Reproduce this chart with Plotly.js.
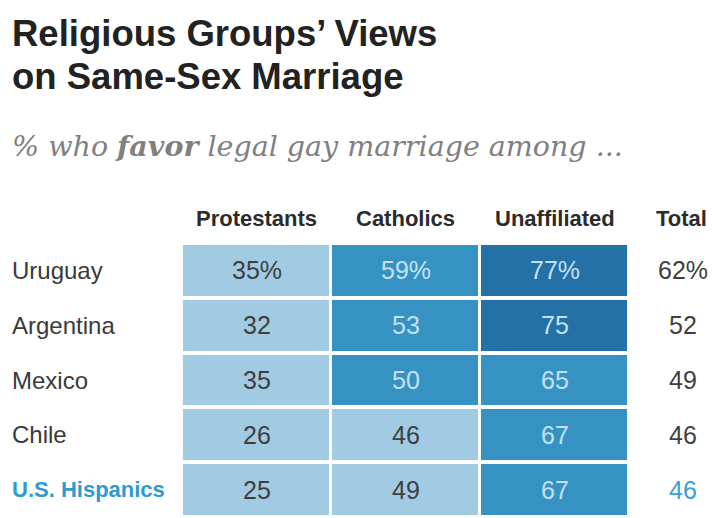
<!DOCTYPE html>
<html>
<head>
<meta charset="utf-8">
<script src="https://cdn.plot.ly/plotly-3.0.1.min.js"></script>
<style>html,body{margin:0;padding:0;background:#fff;}#chart{width:712px;height:518px;}</style>
</head>
<body>
<div id="chart"></div>
<script>
var groups = ["Protestants", "Catholics", "Unaffiliated"];
var countries = ["Uruguay", "Argentina", "Mexico", "Chile", "U.S. Hispanics"];
var protestants = [35, 32, 35, 26, 25];
var catholics = [59, 53, 50, 46, 49];
var unaffiliated = [77, 75, 65, 67, 67];
var totals = [62, 52, 49, 46, 46];
var titleLines = ["Religious Groups’ Views", "on Same-Sex Marriage"];
var subtitle = "% who <b>favor</b> legal gay marriage among ...";

var LIGHT = "#a1cbe3", MED = "#3592c3", DARK = "#2371a7";
var cols = [protestants, catholics, unaffiliated];
var z = countries.map(function(c, i){ return cols.map(function(col){ return col[i]; }); });

var L = 182, R = 83, T = 243, B = 1, W = 712 - L - R, H = 518 - T - B;
function px(x){ return (x - L) / W; }
function py(y){ return 1 - (y - T) / H; }

var sans = "'Liberation Sans', Arial, sans-serif";
var ann = [];
titleLines.forEach(function(t, k){
  ann.push({xref:"paper", yref:"paper", x:px(10), y:py(k === 0 ? 33 : 76), text:"<b>"+t+"</b>", showarrow:false,
    xanchor:"left", yanchor:"middle", font:{family:sans, size:36.5, color:"#222"}});
});
ann.push({xref:"paper", yref:"paper", x:px(10), y:py(146), xanchor:"left", yanchor:"middle", showarrow:false,
  text:subtitle, font:{family:"'DejaVu Serif', Georgia, serif", size:28.5, color:"#808080", style:"italic"}});
groups.forEach(function(g, j){
  ann.push({xref:"x", yref:"paper", x:g, y:py(218), text:"<b>"+g+"</b>", showarrow:false,
    xanchor:"center", yanchor:"middle", font:{family:sans, size:22, color:"#2b2b2b"}});
});
ann.push({xref:"paper", yref:"paper", x:px(681), y:py(218), text:"<b>Total</b>", showarrow:false,
  xanchor:"center", yanchor:"middle", font:{family:sans, size:22, color:"#2b2b2b"}});
countries.forEach(function(c, i){
  var hisp = c === "U.S. Hispanics";
  ann.push({xref:"paper", yref:"y", x:px(10), y:c, text: hisp ? "<b>"+c+"</b>" : c, showarrow:false,
    xanchor:"left", yanchor:"middle", font:{family:sans, size: hisp ? 22 : 24, color: hisp ? "#2e9ad0" : "#3a3a3a"}});
  cols.forEach(function(col, j){
    var v = col[i];
    ann.push({xref:"x", yref:"y", x:groups[j], y:c, text: v + (i === 0 ? "%" : ""), showarrow:false,
      xanchor:"center", yanchor:"middle", font:{family:sans, size:25, color: v >= 50 ? "#c4e1f1" : "#3f3f3f"}});
  });
  ann.push({xref:"paper", yref:"y", x:px(683), y:c, text: totals[i] + (i === 0 ? "%" : ""), showarrow:false,
    xanchor:"center", yanchor:"middle", font:{family:sans, size:25, color: hisp ? "#3aa0d4" : "#3f3f3f"}});
});

var trace = {
  type:"heatmap", x:groups, y:countries, z:z, zmin:0, zmax:100, showscale:false,
  xgap:3, ygap:4, hoverinfo:"skip",
  colorscale:[[0,LIGHT],[0.495,LIGHT],[0.495,MED],[0.70,MED],[0.70,DARK],[1,DARK]]
};

var layout = {
  width:712, height:518,
  margin:{l:L, r:R, t:T, b:B, pad:0},
  paper_bgcolor:"#fff", plot_bgcolor:"#fff",
  xaxis:{visible:false, range:[-0.5, 2.5], fixedrange:true},
  yaxis:{visible:false, autorange:"reversed", fixedrange:true},
  annotations:ann,
  showlegend:false
};
Plotly.newPlot("chart", [trace], layout, {displayModeBar:false, staticPlot:true});
</script>
</body>
</html>
